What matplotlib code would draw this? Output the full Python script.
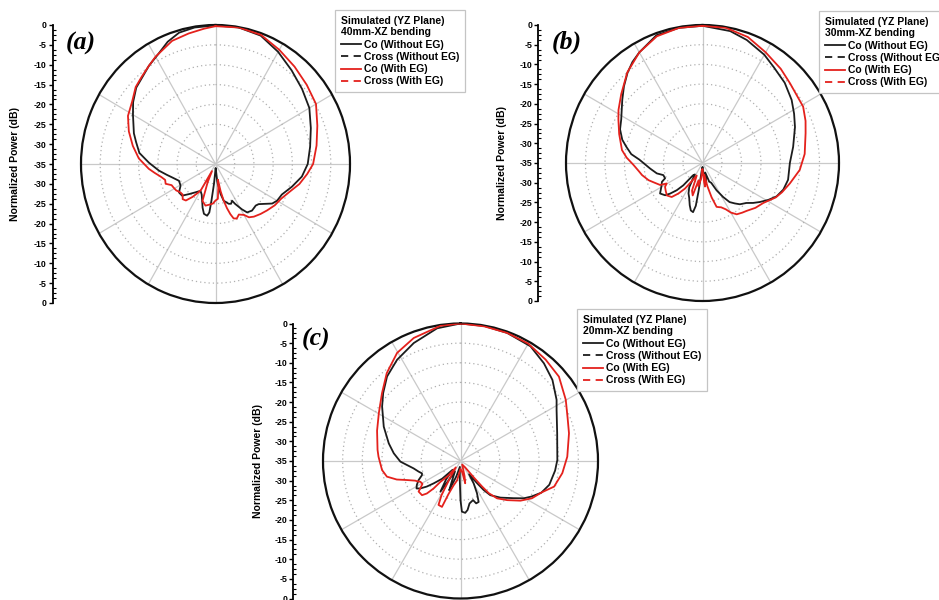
import numpy as np
import matplotlib
matplotlib.use("Agg")
import matplotlib.pyplot as plt
from matplotlib.lines import Line2D
from matplotlib.ticker import MultipleLocator, AutoMinorLocator, FuncFormatter

W, H = 939, 600
plt.rcParams['font.family'] = ['Liberation Sans', 'DejaVu Sans']
plt.rcParams['font.weight'] = 'bold'

BLACK = '#1c1c1c'
RED = '#e4211c'

# ---------------- radiation pattern data (angle in degrees, level in dB) ----------------
# (a) 40 mm XZ bending
A_NOEG_ANG = [0, 10, 20, 30, 40, 50, 60, 70, 80, 90, 98, 106, 114, 120, 124, 128, 132, 135, 141, 146,
              149, 153, 155, 158, 161, 167, 170, 174, 178, 182, 184.5, 186.5, 187.5, 189.5, 193.5, 197,
              200.5, 205, 210, 216, 222.5, 227.5, 233, 239, 246, 253, 258, 263.5, 271, 278, 285, 290,
              300, 306, 313, 319, 325, 332, 338, 344, 351, 360]
A_NOEG_DB = [-0.1, -0.1, -0.6, -2.4, -4.2, -5.6, -6.8, -8.6, -10.0, -11.0, -12.3, -14.3, -16.1, -16.5,
             -17.2, -18.7, -19.9, -20.2, -19.9, -20.3, -21.7, -23.7, -24.8, -24.2, -24.4, -25.5, -27.3,
             -30.5, -34.0, -33.0, -30.0, -25.7, -22.7, -21.8, -22.1, -23.5, -25.1, -26.5, -27.2, -26.2,
             -24.7, -23.2, -23.1, -24.4, -24.6, -23.3, -22.0, -20.2, -17.7, -15.0, -13.6, -12.4, -10.2,
             -8.5, -6.8, -6.0, -4.8, -3.5, -1.8, -0.6, -0.2, -0.1]
A_EG_ANG = [0, 10, 20, 30, 40, 50, 60, 70, 80, 90, 96, 103, 110, 117, 124, 131, 137, 143, 147, 150,
            154.5, 158, 161, 163, 165, 167, 169, 171, 173, 176, 180, 184, 188, 194, 200, 204, 207, 210,
            212, 216, 220, 224, 228, 232, 237, 241, 245, 249, 253, 257, 262, 266, 274, 282, 290, 298,
            306, 313, 319, 325, 330, 340, 348, 355, 360]
A_EG_DB = [-0.3, -0.1, -0.4, -1.8, -3.0, -4.0, -4.8, -6.8, -8.3, -9.6, -11.0, -12.6, -14.5, -15.8,
           -16.4, -17.2, -17.8, -18.4, -19.0, -20.2, -20.9, -20.2, -20.5, -21.8, -23.5, -25.5, -28.0,
           -31.0, -29.0, -26.2, -25.8, -25.0, -24.7, -24.2, -25.1, -30.0, -33.0, -27.5, -26.5, -24.7,
           -23.0, -22.7, -23.5, -23.4, -22.8, -22.6, -22.4, -21.1, -21.3, -20.5, -19.0, -17.6, -15.0,
           -13.0, -11.0, -9.2, -8.2, -6.6, -5.8, -4.8, -3.8, -2.0, -1.4, -0.8, -0.3]

# (b) 30 mm XZ bending
B_NOEG_ANG = [0, 12, 20, 30, 37, 46, 55, 62, 69, 80, 90, 101, 108, 114, 119, 124, 128, 132, 137.5, 141,
              145, 148.5, 152.5, 156, 160, 164, 168, 171, 175, 180, 186, 188, 189, 191, 194, 197, 201,
              205, 209, 214, 218, 221, 223.7, 227, 229.5, 234.6, 240, 245.3, 248, 253, 257.3, 264, 273,
              277, 282, 286, 292, 298, 303, 308, 314, 320, 325, 330, 340, 350, 360]
B_NOEG_DB = [-0.2, -0.8, -1.8, -3.3, -4.6, -5.7, -7.1, -8.4, -9.6, -11.4, -12.6, -12.65, -13.2, -14.2,
             -15.7, -17.3, -18.55, -19.85, -20.8, -21.8, -22.9, -24.9, -27.2, -29.5, -30.0, -32.5,
             -30.5, -29.5, -32.5, -34.0, -33.0, -28.0, -24.0, -22.3, -22.6, -23.8, -25.5, -26.5, -28.0,
             -31.5, -31.0, -27.5, -25.45, -23.6, -22.4, -21.65, -22.8, -23.55, -24.65, -24.5, -23.0,
             -21.5, -18.8, -16.6, -15.0, -13.6, -12.2, -11.4, -10.3, -8.9, -7.0, -5.1, -3.7, -2.6,
             -0.5, -0.2, -0.2]
B_EG_ANG = [0, 10, 20, 30, 40, 48, 61, 68, 74, 85, 94, 103, 110, 115, 123, 130, 137, 141, 146, 150,
            153, 157, 159, 162, 165, 168, 171, 174, 177, 181, 185, 190, 193, 197, 201, 205, 210, 214.7,
            218.6, 222.5, 228, 233, 237.8, 240.5, 242.8, 248, 252.5, 258.8, 263, 268.4, 274, 279, 289,
            297, 302, 310, 320, 330, 340, 350, 360]
B_EG_DB = [-0.2, -0.2, -1.0, -2.6, -3.8, -4.8, -5.5, -6.5, -7.5, -8.7, -10.0, -12.0, -13.3, -14.3,
           -16.4, -17.3, -18.4, -18.8, -19.3, -20.5, -21.8, -22.8, -23.0, -23.3, -26.0, -29.0, -32.0,
           -29.0, -32.5, -33.5, -31.0, -29.0, -30.5, -26.4, -27.5, -31.5, -30.0, -27.1, -25.1, -23.3,
           -22.7, -23.2, -23.65, -24.45, -22.8, -21.7, -20.5, -19.2, -18.5, -17.3, -15.5, -14.1,
           -12.4, -10.8, -9.6, -7.8, -5.0, -2.6, -0.8, -0.2, -0.2]

# (c) 20 mm XZ bending
C_NOEG_ANG = [0, 10, 20, 31.4, 40.5, 48.6, 57.5, 62, 74, 89.4, 95.8, 105, 111.4, 116.6, 120.5, 125,
              132.5, 138.9, 141.4, 143, 147, 149.5, 152.9, 156.1, 159.7, 162.2, 168, 171.8, 174.8,
              178.4, 180, 182, 186, 195, 201, 203, 208, 213.2, 218, 222, 226, 230.2, 232.8, 235.7, 238,
              241.2, 245.6, 249.8, 252.2, 255.8, 261.1, 265.8, 269.4, 272.5, 276.6, 283.8, 294.1,
              304.8, 311.3, 319, 327.9, 338.4, 350, 360]
C_NOEG_DB = [0.0, -0.1, -0.3, -0.8, -2.3, -3.8, -6.0, -7.3, -9.4, -10.35, -10.8, -11.6, -12.9, -14.8,
             -16.3, -18.5, -21.2, -23.45, -25.55, -27.7, -31.0, -28.4, -25.8, -23.6, -23.5, -24.55,
             -23.95, -22.4, -21.75, -22.1, -25.0, -30.0, -33.5, -31.0, -27.0, -29.3, -32.0, -25.65,
             -29.0, -32.0, -28.5, -26.1, -24.25, -22.6, -21.8, -22.3, -23.3, -24.55, -24.7, -24.0,
             -22.9, -21.3, -19.7, -19.0, -17.9, -16.2, -13.6, -10.7, -8.8, -6.5, -4.6, -2.7, -0.7, 0.0]
C_EG_ANG = [0, 10, 20, 30, 40, 49.4, 59.8, 68, 75.7, 87.7, 96.8, 105.3, 111, 117.6, 123.5, 130, 135.6,
            138.7, 139.8, 141, 144, 155, 165, 168, 171, 180, 190, 196, 200, 202, 206.6, 209, 212, 216,
            220, 223.9, 224.4, 226, 228.4, 233.9, 235.7, 239, 242.6, 245, 246.5, 250.4, 253.8, 258,
            263.4, 273, 277.6, 290, 300.4, 310.8, 320, 329.6, 339.2, 351.6, 360]
C_EG_DB = [0.0, -0.2, -0.3, -0.5, -1.3, -2.0, -4.0, -5.6, -6.5, -7.8, -8.9, -10.3, -12.8, -14.5, -16.7,
           -19.5, -21.7, -24.1, -26.5, -29.5, -33.0, -34.0, -31.0, -29.2, -32.0, -33.0, -30.0, -28.5,
           -26.0, -22.4, -22.5, -25.0, -30.0, -33.0, -30.0, -27.65, -25.2, -23.1, -21.9, -21.8, -22.6,
           -23.7, -23.5, -22.8, -22.45, -20.55, -18.1, -15.85, -14.9, -14.1, -13.7, -12.4, -10.9,
           -8.6, -5.8, -3.1, -1.5, -0.2, 0.0]

R_MIN, R_MAX = -35, 0
RING_LEVELS = [-30, -25, -20, -15, -10, -5]
LEGEND_TITLE = 'Simulated (YZ Plane)'
LEGEND_LABELS = ['Co (Without EG)', 'Cross (Without EG)', 'Co (With EG)', 'Cross (With EG)']

# layout of each panel in pixels: circle box (left, top, width, height)
PANELS = [
    dict(tag='(a)', bend='40mm-XZ bending', circle=(81, 25, 269, 278), axis_x=52.5, label_x=15,
         tag_xy=(66, 43), legend_xy=(335, 10),
         curves=[(A_NOEG_ANG, A_NOEG_DB, BLACK), (A_EG_ANG, A_EG_DB, RED)]),
    dict(tag='(b)', bend='30mm-XZ bending', circle=(566, 25, 273, 276), axis_x=538.3, label_x=502,
         tag_xy=(552, 42), legend_xy=(819, 11),
         curves=[(B_NOEG_ANG, B_NOEG_DB, BLACK), (B_EG_ANG, B_EG_DB, RED)]),
    dict(tag='(c)', bend='20mm-XZ bending', circle=(323, 323.5, 275, 275), axis_x=293.3, label_x=258,
         tag_xy=(302, 339), legend_xy=(577, 309),
         curves=[(C_NOEG_ANG, C_NOEG_DB, BLACK), (C_EG_ANG, C_EG_DB, RED)]),
]


def px_box(left, top, width, height):
    return [left / W, 1 - (top + height) / H, width / W, height / H]


fig = plt.figure(figsize=(W / 100, H / 100), dpi=100)
fig.patch.set_facecolor('white')

for p in PANELS:
    cl, ct, cw, ch = p['circle']

    # polar pattern
    ax = fig.add_axes(px_box(cl, ct, cw, ch), projection='polar')
    ax.set_aspect('auto')
    ax.set_theta_zero_location('N')
    ax.set_theta_direction(-1)
    ax.set_rlim(R_MIN, R_MAX)
    ax.set_rticks(RING_LEVELS)
    ax.set_yticklabels([])
    ax.set_xticks(np.deg2rad(np.arange(0, 360, 30)))
    ax.set_xticks(np.deg2rad(np.arange(15, 360, 30)), minor=True)
    ax.set_xticklabels([])
    ax.tick_params(axis='x', which='both', direction='in', length=4, width=1.0,
                   color='black', pad=0)
    ax.xaxis.grid(True, which='major', color='#c9c9c9', lw=0.9, ls='-')
    ax.yaxis.grid(True, color='#b0b0b0', lw=0.9, ls=(0, (1, 2.4)))
    ax.spines['polar'].set_linewidth(1.6)
    ax.spines['polar'].set_color('#111111')
    for ang, db, col in p['curves']:
        ax.plot(np.deg2rad(ang), db, color=col, lw=1.3, zorder=3)

    handles = [Line2D([], [], color=BLACK, lw=1.3),
               Line2D([], [], color=BLACK, lw=1.3, ls=(0, (4, 3))),
               Line2D([], [], color=RED, lw=1.3),
               Line2D([], [], color=RED, lw=1.3, ls=(0, (4, 3)))]
    lx, ly = p['legend_xy']
    leg = ax.legend(handles, LEGEND_LABELS, title=LEGEND_TITLE + '\n' + p['bend'],
                    alignment='left', loc='upper left',
                    bbox_to_anchor=(lx / W, 1 - ly / H), bbox_transform=fig.transFigure,
                    frameon=True, fancybox=False, edgecolor='#c4c4c4', facecolor='white',
                    framealpha=1, prop=dict(weight='bold', size=7.5),
                    title_fontproperties=dict(weight='bold', size=7.5),
                    handlelength=1.9, handletextpad=0.3, labelspacing=0.22,
                    borderpad=0.55, borderaxespad=0)
    leg.get_frame().set_linewidth(0.9)
    leg.set_zorder(10)

    # linear level scale on the left
    axl = fig.add_axes(px_box(p['axis_x'], ct, 1, ch))
    axl.patch.set_visible(False)
    axl.set_xlim(0, 1)
    axl.set_ylim(R_MIN, -R_MIN)
    for s in ('top', 'right', 'bottom'):
        axl.spines[s].set_visible(False)
    axl.spines['left'].set_linewidth(1.3)
    axl.set_xticks([])
    axl.yaxis.set_major_locator(MultipleLocator(5))
    axl.yaxis.set_minor_locator(AutoMinorLocator(4))
    axl.yaxis.set_major_formatter(FuncFormatter(lambda v, pos: f"{int(round(abs(v) + R_MIN))}"))
    axl.tick_params(axis='y', which='major', direction='out', length=3, width=1.0,
                    labelsize=6.3, pad=1.5)
    axl.tick_params(axis='y', which='minor', direction='in', length=2, width=0.8)

    fig.text(p['label_x'] / W, 1 - (ct + ch / 2) / H, 'Normalized Power (dB)',
             rotation=90, ha='center', va='center', fontsize=7.5, fontweight='bold')

    tx, ty = p['tag_xy']
    fig.text(tx / W, 1 - ty / H, p['tag'], ha='left', va='center', fontsize=18.5,
             family=['Liberation Serif', 'DejaVu Serif'], style='italic', fontweight='bold')

fig.savefig('out.png', dpi=100, facecolor='white')
